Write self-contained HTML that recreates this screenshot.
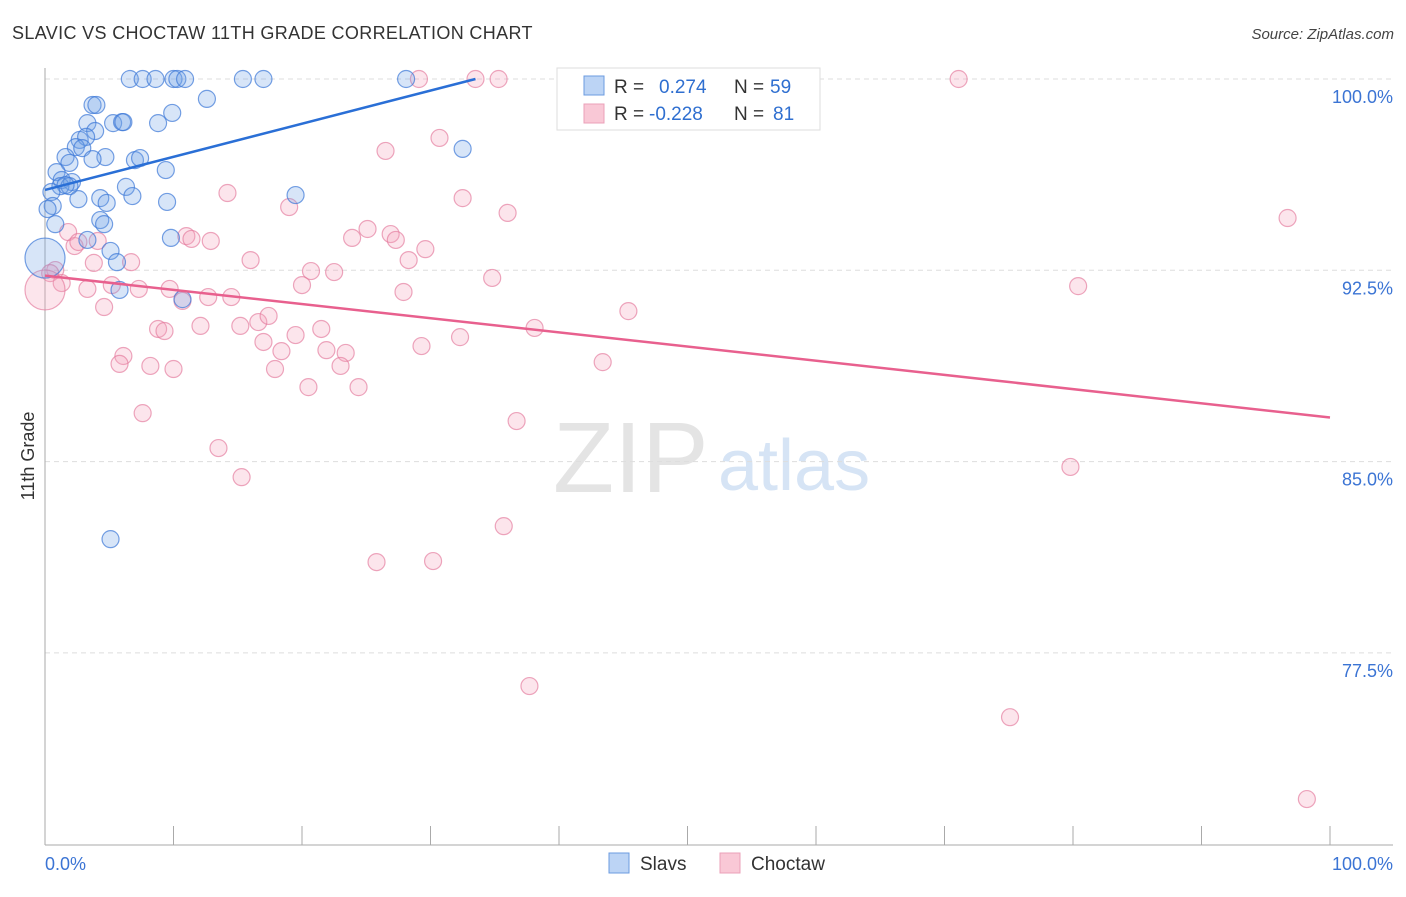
<!DOCTYPE html>
<html><head><meta charset="utf-8">
<style>
body{margin:0;background:#fff;font-family:"Liberation Sans",sans-serif;}
svg text{font-family:"Liberation Sans",sans-serif;}
</style></head>
<body>
<svg id="chart" width="1406" height="892" viewBox="0 0 1406 892" xmlns="http://www.w3.org/2000/svg">
<text x="12" y="39" font-size="18" fill="#333" letter-spacing="0.35">SLAVIC VS CHOCTAW 11TH GRADE CORRELATION CHART</text>
<text x="1394" y="39" font-size="15" fill="#444" text-anchor="end" font-style="italic">Source: ZipAtlas.com</text>
<text x="553" y="492" font-size="100" fill="#e4e4e4" font-family="Liberation Serif, serif">ZIP</text>
<text x="718" y="490" font-size="72" fill="#d6e4f5">atlas</text>
<g id="grid"></g>
<g id="axes"></g>
<g id="pts"></g>
<g id="lines"></g>
<text transform="translate(34,456) rotate(-90)" font-size="18" fill="#333" text-anchor="middle">11th Grade</text>
<g>
<rect x="557" y="68" width="263" height="62" fill="#fff" stroke="#ddd"/>
<rect x="584" y="76" width="20" height="19" fill="#bcd4f5" stroke="#6b9be0"/>
<rect x="584" y="104" width="20" height="19" fill="#f9c8d6" stroke="#eba0b8"/>
<text x="614" y="93" font-size="19" fill="#333">R =</text>
<text x="659" y="93" font-size="19" fill="#2f6fd0">0.274</text>
<text x="734" y="93" font-size="19" fill="#333">N =</text>
<text x="770" y="93" font-size="19" fill="#2f6fd0">59</text>
<text x="614" y="120" font-size="19" fill="#333">R =</text>
<text x="649" y="120" font-size="19" fill="#2f6fd0">-0.228</text>
<text x="734" y="120" font-size="19" fill="#333">N =</text>
<text x="773" y="120" font-size="19" fill="#2f6fd0">81</text>
</g>
<g>
<rect x="609" y="853" width="20" height="20" fill="#bcd4f5" stroke="#6b9be0"/>
<text x="640" y="870" font-size="19" fill="#333">Slavs</text>
<rect x="720" y="853" width="20" height="20" fill="#f9c8d6" stroke="#eba0b8"/>
<text x="751" y="870" font-size="19" fill="#333">Choctaw</text>
</g>
</svg>
<script>
const yTicks=[100,92.5,85,77.5];
const yTickLabels=["100.0%","92.5%","85.0%","77.5%"];
const xTickLabels=["0.0%","100.0%"];
const slavX=[6.6,7.6,8.6,10.0,10.3,10.9,15.4,17.0,28.1,3.7,4.0,12.6,9.9,3.3,5.3,6.0,6.1,8.8,3.9,2.7,3.2,2.4,2.9,32.5,1.6,4.7,3.7,7.0,7.4,1.9,9.4,0.9,1.3,2.1,1.2,1.9,1.6,6.3,19.5,0.5,4.3,2.6,6.8,4.8,9.5,0.6,0.2,4.3,4.6,0.8,3.3,9.8,5.1,5.6,5.8,10.7,5.1,0];
const slavY=[100,100,100,100,100,100,100,100,100,98.98,98.98,99.22,98.67,98.27,98.27,98.31,98.31,98.27,97.96,97.61,97.73,97.33,97.29,97.26,96.94,96.94,96.86,96.82,96.90,96.71,96.43,96.35,96.04,95.96,95.80,95.80,95.84,95.77,95.45,95.57,95.33,95.29,95.41,95.14,95.18,95.02,94.90,94.47,94.31,94.31,93.69,93.77,93.26,92.82,91.73,91.37,81.96,92.98];
const slavBig=[57];
const chocX=[29.1,33.5,35.3,71.1,30.7,26.5,32.5,14.2,19.0,36.0,96.7,25.1,26.9,23.9,27.3,29.6,1.8,2.3,2.6,4.1,11.0,11.4,12.9,16.0,3.8,6.7,0.8,0.4,1.3,3.3,5.2,7.3,9.7,10.7,12.7,14.5,20.7,22.5,20.0,28.3,34.8,27.9,80.4,45.4,4.6,8.8,9.3,12.1,15.2,16.6,17.4,19.5,21.5,17.0,18.4,21.9,23.4,23.0,29.3,32.3,38.1,43.4,6.1,5.8,8.2,10.0,17.9,20.5,24.4,7.6,36.7,13.5,15.3,79.8,35.7,25.8,30.2,37.7,75.1,98.2,0];
const chocY=[100,100,100,100,97.69,97.18,95.33,95.53,94.98,94.75,94.55,94.12,93.92,93.77,93.69,93.33,94.00,93.45,93.61,93.65,93.84,93.73,93.65,92.90,92.79,92.82,92.51,92.39,92.00,91.77,91.92,91.77,91.77,91.30,91.45,91.45,92.47,92.43,91.92,92.90,92.20,91.65,91.88,90.90,91.06,90.20,90.12,90.32,90.32,90.47,90.71,89.96,90.20,89.69,89.33,89.37,89.26,88.75,89.53,89.88,90.24,88.90,89.14,88.83,88.75,88.63,88.63,87.92,87.92,86.90,86.59,85.53,84.39,84.79,82.47,81.06,81.10,76.20,74.98,71.77,91.73];
const chocBig=[80];
const slavTrendX=[0,33.5], slavTrendY=[95.65,100];
const chocTrendX=[0,100], chocTrendY=[92.29,86.73];

const NS="http://www.w3.org/2000/svg";
const xs=v=>45+v*12.85;
const ys=v=>79+(100-v)*191.3/7.5;
function mk(tag,attrs,parent){const e=document.createElementNS(NS,tag);for(const k in attrs)e.setAttribute(k,attrs[k]);parent.appendChild(e);return e;}
const grid=document.getElementById('grid'),axes=document.getElementById('axes'),pts=document.getElementById('pts'),lines=document.getElementById('lines');
yTicks.forEach((t,i)=>{
  const l=mk('line',{x1:45,x2:1393,y1:ys(t),y2:ys(t),stroke:'#ddd','stroke-dasharray':'5,4'},grid);
  
  
  const tx=mk('text',{x:1393,y:ys(t)+24,'font-size':18,fill:'#3b74d4','text-anchor':'end'},axes);
  tx.textContent=yTickLabels[i];
  
  
});
mk('line',{x1:45,x2:45,y1:68,y2:845,stroke:'#aaa'},axes);
mk('line',{x1:45,x2:1393,y1:845,y2:845,stroke:'#aaa'},axes);
for(let i=0;i<=10;i++){
  const t=mk('line',{x1:xs(i*10),x2:xs(i*10),y1:826,y2:845,stroke:'#aaa'},axes);
  
  
}
const xl0=mk('text',{x:45,y:870,'font-size':18,fill:'#3b74d4'},axes);xl0.textContent=xTickLabels[0];


const xl1=mk('text',{x:1393,y:870,'font-size':18,fill:'#3b74d4','text-anchor':'end'},axes);xl1.textContent=xTickLabels[1];


function dots(X,Y,big,fill,stroke,name){
  X.forEach((x,i)=>{
    const c=mk('circle',{cx:xs(x),cy:ys(Y[i]),r:big.includes(i)?20:8.5,fill:fill,stroke:stroke,'stroke-width':1.2},pts);
    
    
  });
}
dots(chocX,chocY,chocBig,'rgba(244,160,188,0.28)','rgba(228,120,155,0.65)','choctaw-point');
dots(slavX,slavY,slavBig,'rgba(110,160,230,0.28)','rgba(60,120,215,0.7)','slavs-point');
const t1=mk('line',{x1:xs(slavTrendX[0]),y1:ys(slavTrendY[0]),x2:xs(slavTrendX[1]),y2:ys(slavTrendY[1]),stroke:'#2a6fd6','stroke-width':2.5},lines);


const t2=mk('line',{x1:xs(chocTrendX[0]),y1:ys(chocTrendY[0]),x2:xs(chocTrendX[1]),y2:ys(chocTrendY[1]),stroke:'#e8608e','stroke-width':2.5},lines);


</script>
</body></html>
